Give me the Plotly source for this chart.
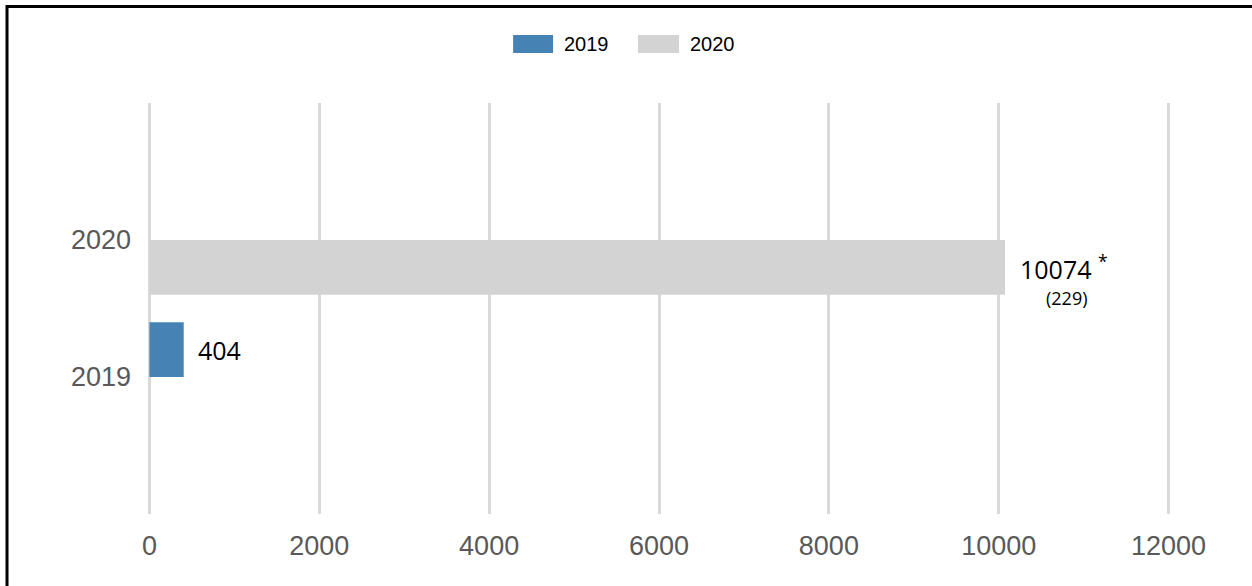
import plotly.graph_objects as go

years = ["2019", "2020"]
values = [404, 10074]
colors = ["#4682B4", "#D3D3D3"]
x_ticks = [0, 2000, 4000, 6000, 8000, 10000, 12000]
x_tick_text = ["0", "2000", "4000", "6000", "8000", "10000", "12000"]
label_texts = ["404", "10074 <sup>*</sup>"]
sub_note = "(229)"

W, H = 1252, 586
XMIN, XMAX = -40, 12040
SCALE = 1020 / 12000
L = 149 + XMIN * SCALE
R = 1169 + (XMAX - 12000) * SCALE
T, B = 103, 514
pw, ph = R - L, B - T

def px(x):
    return (x - L) / pw

def py(y):
    return (B - y) / ph

fig = go.Figure()
offsets = [0.0, -0.4]
for yr, v, c, off in zip(years, values, colors, offsets):
    fig.add_trace(go.Bar(
        x=[v], y=[yr], name=yr, orientation="h",
        marker=dict(color=c, line=dict(width=0)),
        width=0.4, offset=off, showlegend=False,
    ))

# value labels
i19, i20 = years.index("2019"), years.index("2020")
fig.add_annotation(x=values[0], y=i19, text=label_texts[0], showarrow=False,
                   xanchor="left", yanchor="middle", xshift=12, yshift=27,
                   font=dict(family="Open Sans", size=25, color="black"))
fig.add_annotation(x=values[1], y=i20, text=label_texts[1], showarrow=False,
                   xanchor="left", yanchor="middle", xshift=13, yshift=-27,
                   font=dict(family="Open Sans", size=25, color="black"))
fig.add_annotation(x=values[1], y=i20, text=sub_note, showarrow=False,
                   xanchor="center", yanchor="middle", xshift=62, yshift=-58,
                   font=dict(family="Open Sans", size=18, color="black"))

# custom legend
leg = [(513, 553, 562), (638, 679, 688)]
for (x0, x1, tx), yr, c in zip(leg, years, colors):
    fig.add_shape(type="rect", xref="paper", yref="paper",
                  x0=px(x0), x1=px(x1), y0=py(53), y1=py(35),
                  fillcolor=c, line=dict(width=0))
    fig.add_annotation(xref="paper", yref="paper", x=px(tx), y=py(44), text=yr,
                       showarrow=False, xanchor="left", yanchor="middle",
                       font=dict(family="Liberation Sans", size=20, color="black"))

# frame
fig.add_shape(type="rect", xref="paper", yref="paper",
              x0=px(6.5), x1=px(1300), y0=py(650), y1=py(6.5),
              line=dict(color="black", width=3), fillcolor="rgba(0,0,0,0)")

fig.update_layout(
    width=W, height=H,
    margin=dict(l=L, r=W - R, t=T, b=H - B, pad=0),
    plot_bgcolor="white", paper_bgcolor="white",
    barmode="overlay",
    xaxis=dict(range=[XMIN, XMAX], tickvals=x_ticks, ticktext=x_tick_text,
               showgrid=True, gridcolor="#D9D9D9", gridwidth=3, zeroline=False,
               showline=False, ticks="", ticklabelstandoff=13,
               tickfont=dict(family="Liberation Sans", size=27, color="#595959")),
    yaxis=dict(type="category", categoryorder="array", categoryarray=years,
               range=[-1, 2], showgrid=False, zeroline=False, showline=False,
               ticks="", ticklabelstandoff=14,
               tickfont=dict(family="Liberation Sans", size=27, color="#595959")),
    showlegend=False,
)
fig.write_html("out.html", config={"displayModeBar": False},
               post_script="document.body.style.margin='0px';document.body.style.overflow='hidden';")
